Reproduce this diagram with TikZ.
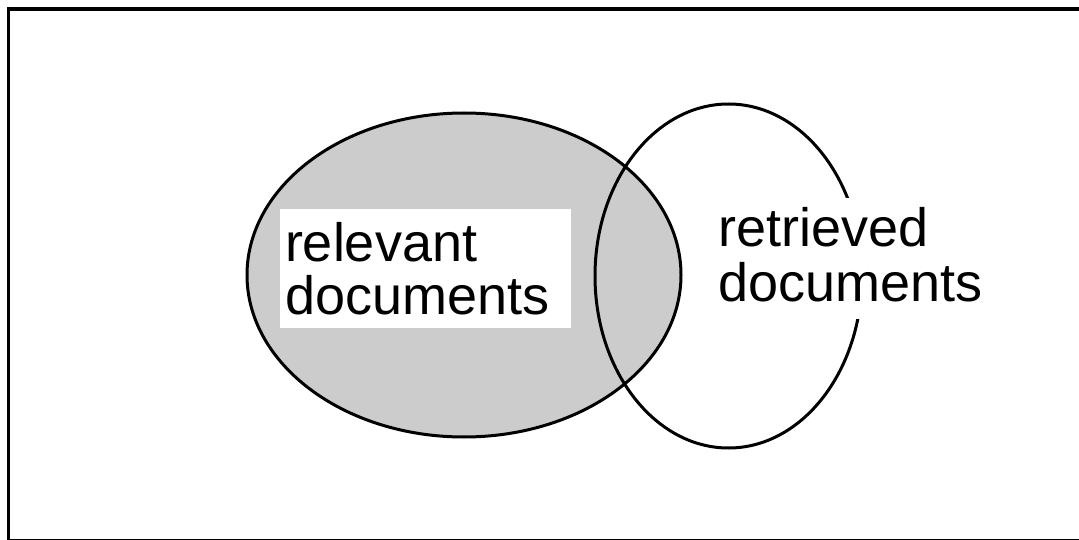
\documentclass[tikz,border=0pt]{standalone}
\usepackage{fontspec}
\setmainfont{Liberation Sans}
\definecolor{relgray}{RGB}{204,204,204}

\begin{document}
\begin{tikzpicture}[x=1pt,y=-1pt,line width=3pt]
\path[use as bounding box] (0,0) rectangle (1079,540);
\draw[line width=3.5pt] (8.5,9) rectangle (1081,540.5);
\draw[fill=relgray] (464,275) ellipse [x radius=217,y radius=162];
\draw (728.5,276) ellipse [x radius=133.5,y radius=172];
\node[anchor=north west,fill=white,inner xsep=5.5pt,inner ysep=0pt,text width=280pt,minimum height=118pt,align=left,font=\fontsize{54}{53}\selectfont] (relevant) at (278,208) {relevant\\ documents};
\node[anchor=north west,fill=white,inner xsep=5pt,inner ysep=0pt,minimum height=120pt,align=left,font=\fontsize{54}{55}\selectfont] (retrieved) at (712,197) {retrieved\\ documents\rule[-8pt]{0pt}{1pt}};
\end{tikzpicture}
\end{document}
